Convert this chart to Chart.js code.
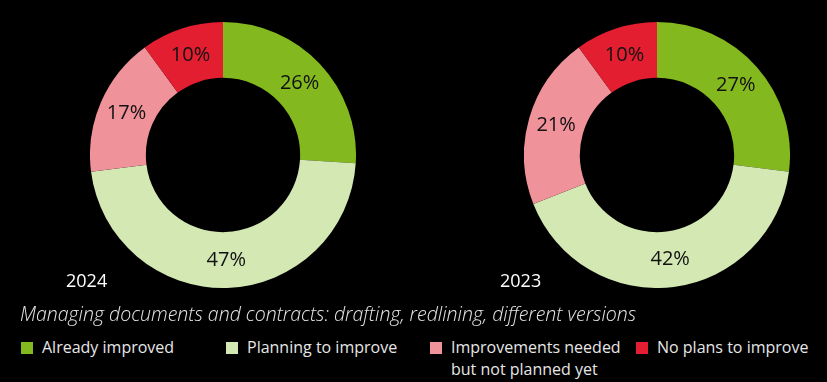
<!DOCTYPE html>
<html>
<head>
<meta charset="utf-8">
<script src="https://cdn.jsdelivr.net/npm/chart.js@4.4.1/dist/chart.umd.min.js"></script>
<style>
  html, body { margin: 0; padding: 0; background: #000; }
  body { width: 827px; height: 382px; position: relative; overflow: hidden; font-family: "Open Sans", "Noto Sans", sans-serif; }
  .box { position: absolute; width: 266px; height: 266px; top: 22px; }
  .year { position: absolute; color: #fff; font-size: 18px; line-height: 20px; }
  .title { position: absolute; left: 20px; top: 301px; color: #e6e6e6; font-size: 19.5px; font-style: italic; font-weight: 300; line-height: 26px; white-space: nowrap; }
  .leg { position: absolute; color: #e6e6e6; font-size: 16px; line-height: 22px; white-space: nowrap; }
  .sw { position: absolute; width: 12px; height: 12px; }
</style>
</head>
<body>
<div class="box" style="left:90px"><canvas id="c2024"></canvas></div>
<div class="box" style="left:524px"><canvas id="c2023"></canvas></div>
<div class="year" style="left:66px; top:270px">2024</div>
<div class="year" style="left:500px; top:270px">2023</div>
<div class="title">Managing documents and contracts: drafting, redlining, different versions</div>
<div id="legend"></div>
<script>
const categories = ["Already improved", "Planning to improve", "Improvements needed\nbut not planned yet", "No plans to improve"];
const values2024 = [26, 47, 17, 10];
const values2023 = [27, 42, 21, 10];
const colors = ["#84B81F", "#D4E8B3", "#F0929A", "#E31E31"];
const legendX = [21, 226, 430, 636];

const labelPlugin = {
  id: "sliceLabels",
  afterDatasetsDraw(chart) {
    const ctx = chart.ctx;
    const meta = chart.getDatasetMeta(0);
    const data = chart.data.datasets[0].data;
    ctx.save();
    ctx.font = '20px "Open Sans", "Noto Sans", sans-serif';
    ctx.fillStyle = "#111";
    ctx.textAlign = "center";
    ctx.textBaseline = "middle";
    meta.data.forEach((arc, i) => {
      const p = arc.tooltipPosition();
      ctx.fillText(data[i] + "%", p.x, p.y);
    });
    ctx.restore();
  }
};

function makeChart(id, values) {
  return new Chart(document.getElementById(id), {
    type: "doughnut",
    data: {
      labels: categories,
      datasets: [{ data: values, backgroundColor: colors, borderWidth: 0 }]
    },
    options: {
      responsive: true,
      maintainAspectRatio: false,
      animation: false,
      cutout: "58%",
      layout: { padding: 0 },
      plugins: { legend: { display: false }, tooltip: { enabled: false } }
    },
    plugins: [labelPlugin]
  });
}
makeChart("c2024", values2024);
makeChart("c2023", values2023);

const legend = document.getElementById("legend");
categories.forEach((c, i) => {
  const sw = document.createElement("div");
  sw.className = "sw";
  sw.style.left = legendX[i] + "px";
  sw.style.top = "342px";
  sw.style.background = colors[i];
  legend.appendChild(sw);
  const t = document.createElement("div");
  t.className = "leg";
  t.style.left = (legendX[i] + 21) + "px";
  t.style.top = "336px";
  t.innerHTML = c.replace("\n", "<br>");
  legend.appendChild(t);
});
</script>
</body>
</html>
